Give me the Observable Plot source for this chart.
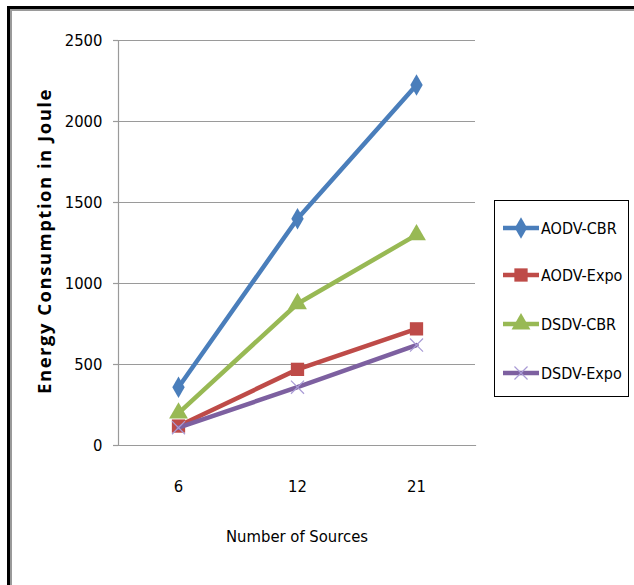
<!DOCTYPE html>
<html>
<head>
<meta charset="utf-8">
<script src="https://cdn.jsdelivr.net/npm/d3@7"></script>
<script src="https://cdn.jsdelivr.net/npm/@observablehq/plot@0.6"></script>
<style>
  html, body { margin: 0; padding: 0; background: #fff; }
  #wrap { position: relative; width: 634px; height: 585px; overflow: hidden; font-family: "DejaVu Sans Condensed", "Roboto", sans-serif; font-stretch: condensed; }
  #frameOuter { position: absolute; left: 7px; top: 6px; right: -10px; bottom: -10px; border-left: 3px solid #000; border-top: 3px solid #000; }
  #frameInner { position: absolute; left: 10px; top: 9px; right: -10px; bottom: -10px; border-left: 2px solid #9a9a9a; border-top: 2px solid #9a9a9a; }
  #chart { position: absolute; left: 0; top: 0; }
  #legend { position: absolute; left: 494px; top: 200px; width: 135px; height: 197px; border: 1px solid #000; box-sizing: border-box; background: #fff; }
  .item { position: absolute; left: 6px; height: 24px; display: flex; align-items: center; font-size: 16px; color: #000; white-space: nowrap; }
</style>
</head>
<body>
<div id="wrap">
  <div id="frameOuter"></div>
  <div id="frameInner"></div>
  <div id="chart"></div>
  <div id="legend"></div>
</div>
<script>
const sources = ["6", "12", "21"];
const seriesNames = ["AODV-CBR", "AODV-Expo", "DSDV-CBR", "DSDV-Expo"];
const aodvCbr = [360, 1400, 2225];
const aodvExpo = [120, 470, 720];
const dsdvCbr = [200, 875, 1300];
const dsdvExpo = [110, 360, 620];
const yTicks = [0, 500, 1000, 1500, 2000, 2500];

const colors = ["#4A7EBB", "#BE4B48", "#98B954", "#7D60A0"];
const markerColors = ["#4A7EBB", "#BE4B48", "#98B954", "#A99BD5"];
const symbols = ["diamond", "square", "triangle", "times"];
const sizes = [6.5, 7.5, 7, 6];
const FONT = "'DejaVu Sans Condensed', Roboto, sans-serif";

const allValues = [aodvCbr, aodvExpo, dsdvCbr, dsdvExpo];
const data = [];
seriesNames.forEach((s, i) => sources.forEach((x, j) => data.push({series: s, x, y: allValues[i][j], idx: i})));

const marks = [
  Plot.gridY(yTicks, {stroke: "#9a9a9a", strokeOpacity: 1, strokeWidth: 1.2}),
  Plot.axisY(yTicks, {tickSize: 5, tickPadding: 11, fontSize: 16.5, stroke: "#9a9a9a", strokeWidth: 1.2, tickFormat: d => String(d), label: null}),
  Plot.frame({anchor: "left", stroke: "#9a9a9a", strokeWidth: 1.2}),
  Plot.frame({anchor: "bottom", stroke: "#9a9a9a", strokeWidth: 1.2}),
  Plot.axisX({tickSize: 0, tickPadding: 35, fontSize: 16.5, label: null}),
  Plot.text(["Number of Sources"], {frameAnchor: "bottom", dy: 96, fontSize: 16.5, fill: "#000", fontWeight: "normal"}),
  Plot.text(["Energy Consumption in Joule"], {frameAnchor: "left", textAnchor: "middle", dx: -73, dy: -2, rotate: -90, fontSize: 18.5, fontWeight: "bold", fontFamily: "'Open Sans', sans-serif", fill: "#000", className: "ylab"})
];
seriesNames.forEach((s, i) => {
  const d = data.filter(e => e.idx === i);
  marks.push(Plot.line(d, {x: "x", y: "y", stroke: colors[i], strokeWidth: 4.5}));
  if (symbols[i] === "times") {
    marks.push(Plot.dot(d, {x: "x", y: "y", symbol: "times", r: sizes[i], stroke: markerColors[i], strokeWidth: 1.2, fill: "none"}));
  } else {
    marks.push(Plot.dot(d, {x: "x", y: "y", symbol: symbols[i], r: sizes[i], fill: colors[i], stroke: "none"}));
  }
});

const chart = Plot.plot({
  width: 634,
  height: 585,
  marginLeft: 118,
  marginRight: 159,
  marginTop: 40,
  marginBottom: 140,
  style: {background: "transparent", fontFamily: FONT, fontStretch: "condensed", color: "#000"},
  x: {type: "point", domain: sources, padding: 0.5},
  y: {domain: [0, 2500]},
  marks
});
d3.select(chart).selectAll(".ylab, .ylab text").style("font-stretch", "normal").style("letter-spacing", "1.5px");
document.getElementById("chart").appendChild(chart);

// legend
const legend = document.getElementById("legend");
const tops = [15, 62, 111, 160];
const symMap = {diamond: d3.symbolDiamond, square: d3.symbolSquare, triangle: d3.symbolTriangle, times: d3.symbolTimes};
seriesNames.forEach((s, i) => {
  const item = document.createElement("div");
  item.className = "item";
  item.style.top = tops[i] + "px";
  const svg = d3.create("svg").attr("width", 40).attr("height", 24);
  svg.append("line").attr("x1", 2).attr("x2", 38).attr("y1", 12).attr("y2", 12).attr("stroke", colors[i]).attr("stroke-width", 4.5);
  const path = d3.symbol(symMap[symbols[i]], Math.PI * sizes[i] * sizes[i])();
  const p = svg.append("path").attr("d", path).attr("transform", "translate(20,12)");
  if (symbols[i] === "times") p.attr("fill", "none").attr("stroke", markerColors[i]).attr("stroke-width", 1.2);
  else p.attr("fill", colors[i]);
  item.appendChild(svg.node());
  const t = document.createElement("span");
  t.textContent = s;
  item.appendChild(t);
  legend.appendChild(item);
});
</script>
</body>
</html>
